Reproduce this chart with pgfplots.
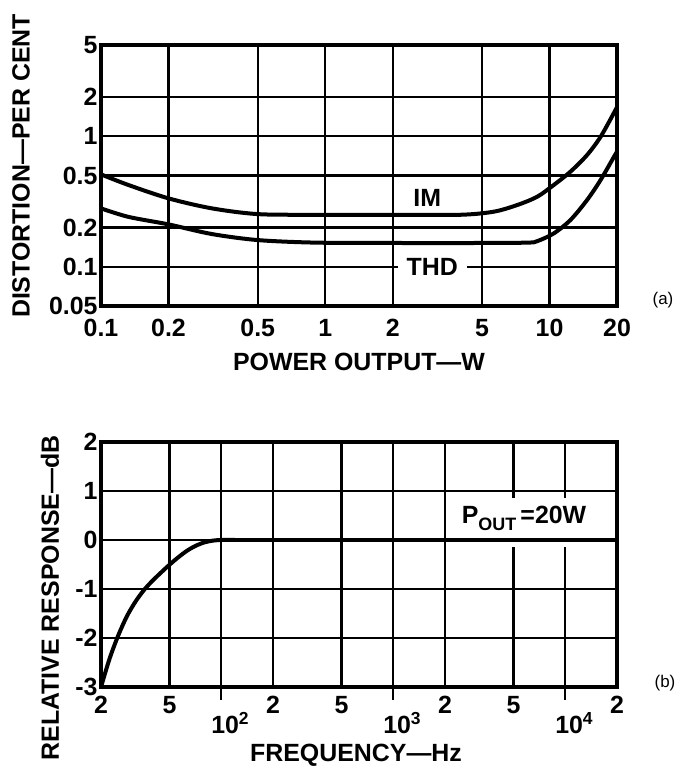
\documentclass[border=0pt]{standalone}
\usepackage{pgfplots}
\pgfplotsset{compat=1.18}
\usepackage{fontspec}
\setmainfont{Liberation Sans}
\newcommand\lab{\fontsize{25}{25}\selectfont\bfseries}
\begin{document}
\begin{tikzpicture}
\path[use as bounding box, fill=white] (0bp,0bp) rectangle (680bp,771bp);
\pgfplotsset{
  myaxis/.style={
    scale only axis, axis on top=false,
    grid=major,
    major grid style={black, line width=2.2bp},
    minor grid style={draw=none},
    axis line style={black, line width=3.2bp},
    major tick length=0pt, minor tick length=0pt,
    tick style={black, line width=2.2bp},
    ticklabel style={font=\lab},
    xtick pos=left, ytick pos=left,
  }
}
\begin{axis}[myaxis, at={(101bp,465bp)}, anchor=south west, width=516bp, height=261bp,
  xmode=log, ymode=log, xmin=0.1, xmax=20, ymin=0.05, ymax=5,
  xtick={0.1,0.2,0.5,1,2,5,10,20}, xticklabels={0.1,0.2,0.5,1,2,5,10,20},
  ytick={0.05,0.1,0.2,0.5,1,2,5}, yticklabels={0.05,0.1,0.2,0.5,1,2,5},
  xticklabel style={anchor=center, yshift=-22bp},
]
\node[font=\lab, fill=white, inner xsep=9bp, inner ysep=2bp] at (axis cs:3.0,0.1) {THD};
\node[font=\lab] at (axis cs:2.85,0.336) {IM};
\addplot[black, line width=4bp, smooth] coordinates {
(0.1,0.51) (0.1324,0.423) (0.2,0.334) (0.312,0.28) (0.5,0.253) (0.9,0.25) (2,0.25) (4,0.25)
(5.64,0.264) (7.18,0.297) (8.82,0.344) (10.45,0.423) (12.4,0.535) (14.7,0.717) (16.9,0.99) (19.7,1.59) (20,1.68)};
\addplot[black, line width=4bp, smooth] coordinates {
(0.1,0.28) (0.1324,0.241) (0.2,0.211) (0.312,0.178) (0.5,0.160) (0.9,0.153) (2,0.152) (5,0.152)
(8,0.153) (8.82,0.157) (10.45,0.18) (12.4,0.228) (14.7,0.324) (16.9,0.462) (19.4,0.697) (20,0.76)};
\end{axis}
\begin{axis}[myaxis, at={(101bp,84bp)}, anchor=south west, width=516bp, height=245bp,
  xmode=log, xmin=20, xmax=20000, ymin=-3, ymax=2,
  xtick={20,50,100,200,500,1000,2000,5000,10000,20000},
  xticklabels={2,5,,2,5,,2,5,,2},
  ytick={-3,-2,-1,0,1,2}, yticklabels={-3,-2,-1,0,1,2},
  xticklabel style={anchor=center, yshift=-18bp},
  extra x ticks={100,1000,10000},
  extra x tick labels={10\textsuperscript{2},10\textsuperscript{3},10\textsuperscript{4}},
  extra x tick style={major tick length=13bp, tick align=outside, xticklabel style={yshift=-5.5bp, xshift=9bp}},
]
\node[fill=white, minimum width=160bp, minimum height=49bp, inner sep=0pt] at (axis cs:6240,0.357) {};
\node[font=\lab] at (axis cs:5760,0.45) {P\raisebox{-7bp}{\fontsize{18}{18}\selectfont OUT}\,=20W};
\addplot[black, line width=4bp, smooth] coordinates {
(20,-3) (22.44,-2.42) (25.18,-1.95) (28.25,-1.56) (31.7,-1.26) (35.57,-1.02) (39.9,-0.83) (44.8,-0.66)
(50.2,-0.50) (56.4,-0.35) (63.2,-0.22) (70.9,-0.12) (79.6,-0.05) (89.3,-0.013) (100,0) (120,0)};
\addplot[black, line width=4bp] coordinates {(120,0) (20000,0)};
\end{axis}
\node[font=\lab, rotate=90] at (21bp,605bp) {DISTORTION—PER CENT};
\node[font=\lab] at (359bp,409bp) {POWER OUTPUT—W};
\node[font=\lab, rotate=90] at (50bp,173bp) {RELATIVE RESPONSE—dB};
\node[font=\lab] at (356bp,16bp) {FREQUENCY—Hz};
\node[font=\fontsize{17}{17}\selectfont] at (663bp,471bp) {(a)};
\node[font=\fontsize{17}{17}\selectfont] at (665bp,88bp) {(b)};
\end{tikzpicture}
\end{document}
